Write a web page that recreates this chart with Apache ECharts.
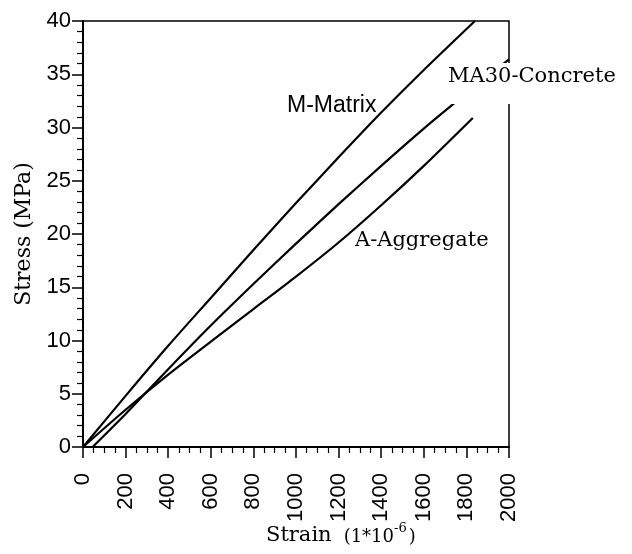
<!DOCTYPE html>
<html>
<head>
<meta charset="utf-8">
<script src="https://cdn.jsdelivr.net/npm/echarts@6/dist/echarts.min.js"></script>
<style>html,body{margin:0;padding:0;background:#fff;}#c{width:632px;height:554px;}</style>
</head>
<body>
<div id="c"></div>
<script>
// Data
const strainM = [0, 200, 400, 600, 800, 1000, 1200, 1400, 1600, 1840];
const stressM = [0, 4.8, 9.5, 14.0, 18.5, 22.9, 27.2, 31.4, 35.4, 40];
const strainC = [45, 200, 400, 600, 800, 1000, 1200, 1400, 1600, 1800, 2000];
const stressC = [0, 3.1, 7.3, 11.4, 15.3, 19.1, 22.8, 26.4, 29.9, 33.2, 36.4];
const strainA = [0, 200, 400, 600, 800, 1000, 1200, 1400, 1600, 1830];
const stressA = [0, 3.5, 6.8, 9.9, 12.95, 16.0, 19.2, 22.7, 26.4, 30.9];
const seriesNames = ['M-Matrix', 'MA30-Concrete', 'A-Aggregate'];

function pairs(xs, ys) { return xs.map((x, i) => [x, ys[i]]); }

const chart = echarts.init(document.getElementById('c'));
const sans = 'Liberation Sans, Arial, sans-serif';
const serif = 'DejaVu Serif, serif';
function lineSeries(name, xs, ys) {
  return {
    name: name, type: 'line', data: pairs(xs, ys), smooth: 0.25,
    showSymbol: false, symbol: 'none', clip: true,
    lineStyle: { color: '#000', width: 2.2 }, z: 3
  };
}
chart.setOption({
  animation: false,
  backgroundColor: '#fff',
  grid: { left: 83, top: 21, width: 426, height: 426, show: true, borderColor: '#000', borderWidth: 1.5, backgroundColor: 'transparent' },
  xAxis: {
    type: 'value', min: 0, max: 2000, interval: 200,
    axisLine: { lineStyle: { color: '#000', width: 2 } },
    axisTick: { length: 11, lineStyle: { color: '#000', width: 1.5 } },
    minorTick: { show: true, splitNumber: 4, length: 6, lineStyle: { color: '#000', width: 1.2 } },
    axisLabel: { rotate: 90, fontSize: 22, fontFamily: sans, color: '#000', margin: 26, formatter: v => String(v) },
    splitLine: { show: false }
  },
  yAxis: {
    type: 'value', min: 0, max: 40, interval: 5,
    axisLine: { lineStyle: { color: '#000', width: 2 } },
    axisTick: { length: 11, lineStyle: { color: '#000', width: 1.5 } },
    minorTick: { show: true, splitNumber: 5, length: 6, lineStyle: { color: '#000', width: 1.2 } },
    axisLabel: { fontSize: 22, fontFamily: sans, color: '#000', margin: 12, formatter: v => String(v) },
    splitLine: { show: false }
  },
  series: [
    lineSeries(seriesNames[0], strainM, stressM),
    lineSeries(seriesNames[1], strainC, stressC),
    lineSeries(seriesNames[2], strainA, stressA)
  ],
  graphic: [
    { type: 'text', z: 100, left: 287, top: 94,
      style: { text: seriesNames[0], fontSize: 23, fontFamily: sans, fill: '#000' } },
    { type: 'rect', z: 99, shape: { x: 446, y: 63, width: 176, height: 41 }, style: { fill: '#fff' } },
    { type: 'text', z: 100, left: 448, top: 66,
      style: { text: seriesNames[1], fontSize: 21, fontFamily: serif, fill: '#000' } },
    { type: 'text', z: 100, left: 355, top: 230,
      style: { text: seriesNames[2], fontSize: 21, fontFamily: serif, fill: '#000' } },
    { type: 'text', z: 100, x: 24, y: 234, rotation: Math.PI / 2,
      style: { text: 'Stress (MPa)', x: 0, y: 0, fontSize: 22, fontFamily: serif, fill: '#000',
               align: 'center', verticalAlign: 'middle', textAlign: 'center', textVerticalAlign: 'middle' } },
    { type: 'text', z: 100, left: 266, top: 522,
      style: {
        text: '{a|Strain}{b|(1*10}{c|-6}{b|)}', fill: '#000',
        rich: {
          a: { fontSize: 21, fontFamily: serif, fill: '#000', verticalAlign: 'bottom', padding: [0, 12, 0, 0] },
          b: { fontSize: 18, fontFamily: serif, fill: '#000', verticalAlign: 'bottom' },
          c: { fontSize: 13, fontFamily: serif, fill: '#000', verticalAlign: 'bottom', padding: [0, 2, 11, 0] }
        }
      } }
  ]
});
</script>
</body>
</html>
